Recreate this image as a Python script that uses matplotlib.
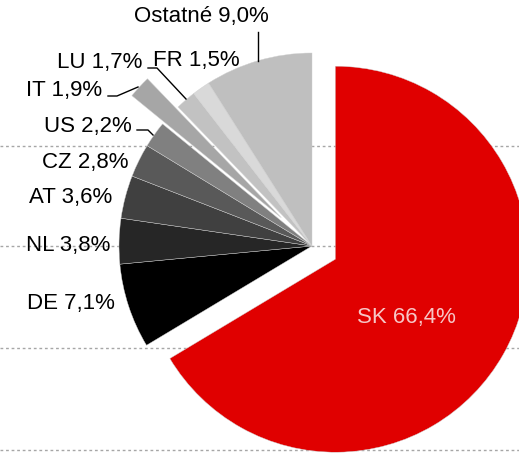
# -*- coding:utf-8 -*-
from matplotlib import pyplot as plt

# data
labels = ["SK", "DE", "NL", "AT", "CZ", "US", "IT", "LU", "FR", "Ostatné"]
shares = [66.4, 7.1, 3.8, 3.6, 2.8, 2.2, 1.9, 1.7, 1.5, 9.0]
colors = ["#e00000", "#000000", "#262626", "#404040", "#595959",
          "#808080", "#a6a6a6", "#c2c2c2", "#d9d9d9", "#bfbfbf"]
explode = [0.139, 0, 0, 0, 0, 0, 0.216, 0, 0, 0]

# pixel geometry of the reference (pie center / radius)
W, H = 519, 456
CX, CY, R = 312, 247, 193


def px(x, y):
    """pixel coords (origin top-left) -> data units (radius = 1)"""
    return (x - CX) / R, (CY - y) / R


def fmt(lab, v):
    return "%s %s%%" % (lab, ("%.1f" % v).replace(".", ","))


def draw_pie():
    plt.rcParams['font.family'] = ['Liberation Sans', 'DejaVu Sans']
    fig = plt.figure(figsize=(W / 100, H / 100), dpi=100)
    ax = fig.add_axes([0, 0, 1, 1])

    # dashed gridlines behind the pie
    for gy in [147, 247, 349, 451]:
        ax.axhline(px(0, gy)[1], color="#a6a6a6", lw=1, ls=(0, (2, 2)), zorder=0)

    ax.pie(shares, colors=colors, explode=explode, startangle=90,
           counterclock=False, radius=1, center=(0, 0), frame=True,
           wedgeprops=dict(edgecolor="#d0d0d0", linewidth=0.3, zorder=2))

    # labels (pixel positions of text centres)
    pos = {
        "SK": (406, 318), "DE": (71, 304), "NL": (68, 245), "AT": (71, 197),
        "CZ": (85, 162), "US": (88, 126), "IT": (64, 90), "LU": (100, 62),
        "FR": (196, 60), "Ostatné": (201, 16),
    }
    for lab, v in zip(labels, shares):
        x, y = px(*pos[lab])
        c = "#f7c6c6" if lab == "SK" else "black"
        ax.text(x, y, fmt(lab, v), ha="center", va="center", fontsize=16,
                color=c, zorder=3)

    # leader lines
    leaders = [
        [(258, 33), (258, 62)],
        [(148, 69), (157, 69), (186, 100)],
        [(108, 97), (117, 97), (138, 88)],
        [(137, 131), (148, 131), (153, 136)],
    ]
    for pts in leaders:
        xs, ys = zip(*[px(*p) for p in pts])
        ax.plot(xs, ys, color="black", lw=1.0, zorder=3)

    x0, y1 = px(0, 0)
    x1, y0 = px(W, H)
    ax.set_xlim(x0, x1)
    ax.set_ylim(y0, y1)
    ax.set_aspect("auto")
    ax.axis("off")
    fig.savefig("out.png", dpi=100)


if __name__ == '__main__':
    draw_pie()
